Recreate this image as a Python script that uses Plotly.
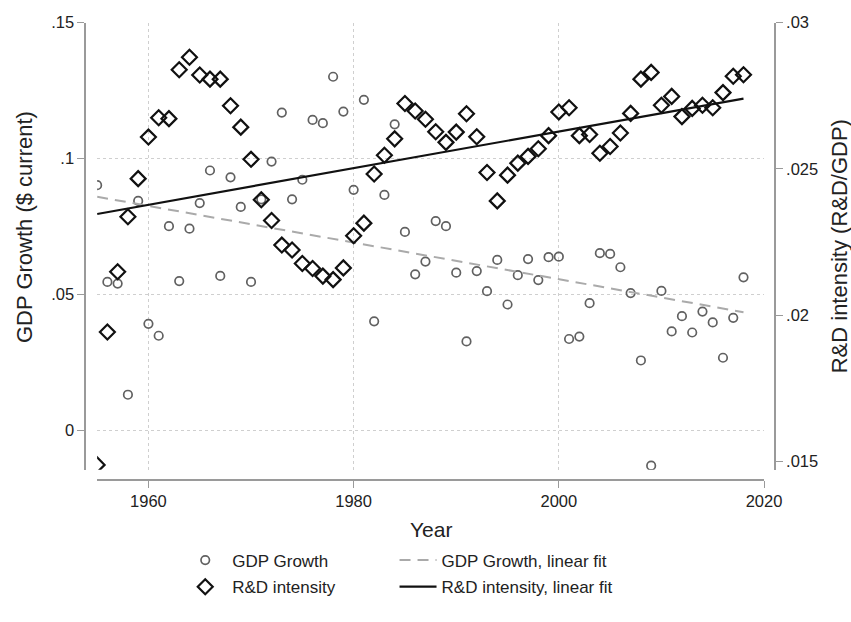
import numpy as np
import plotly.graph_objects as go

# Annual observations
years = list(range(1955, 2019))

gdp_growth = [
    0.0902, 0.0546, 0.0540, 0.0131, 0.0844, 0.0392, 0.0348, 0.0751, 0.0549, 0.0742,
    0.0836, 0.0956, 0.0568, 0.0931, 0.0822, 0.0546, 0.0850, 0.0989, 0.1169, 0.0850,
    0.0922, 0.1142, 0.1130, 0.1301, 0.1173, 0.0885, 0.1216, 0.0401, 0.0866, 0.1126,
    0.0730, 0.0574, 0.0621, 0.0770, 0.0751, 0.0580, 0.0327, 0.0586, 0.0512, 0.0627,
    0.0463, 0.0571, 0.0630, 0.0553, 0.0637, 0.0639, 0.0336, 0.0345, 0.0468, 0.0652,
    0.0649, 0.0600, 0.0505, 0.0257, -0.0130, 0.0513, 0.0364, 0.0420, 0.0360, 0.0437,
    0.0397, 0.0267, 0.0414, 0.0563,
]

rd_intensity = [
    0.01489, 0.01943, 0.02149, 0.02337, 0.02467, 0.02609, 0.02675, 0.02672, 0.02839, 0.02882,
    0.02821, 0.02807, 0.02807, 0.02716, 0.02643, 0.02533, 0.02395, 0.02324, 0.02240, 0.02223,
    0.02177, 0.02160, 0.02134, 0.02122, 0.02162, 0.02272, 0.02315, 0.02483, 0.02547, 0.02603,
    0.02724, 0.02698, 0.02670, 0.02627, 0.02591, 0.02626, 0.02689, 0.02610, 0.02488, 0.02391,
    0.02479, 0.02520, 0.02543, 0.02569, 0.02614, 0.02695, 0.02709, 0.02614, 0.02618, 0.02554,
    0.02577, 0.02623, 0.02690, 0.02807, 0.02830, 0.02718, 0.02748, 0.02679, 0.02707, 0.02718,
    0.02709, 0.02761, 0.02817, 0.02822,
]

x_ticks = [1960, 1980, 2000, 2020]
left_ticks = [0, 0.05, 0.10, 0.15]
left_tick_text = ["0", ".05", ".1", ".15"]
right_ticks = [0.015, 0.020, 0.025, 0.030]
right_tick_text = [".015", ".02", ".025", ".03"]

# OLS fits of each series on year
gdp_fit = np.polyval(np.polyfit(years, gdp_growth, 1), years)
rd_fit = np.polyval(np.polyfit(years, rd_intensity, 1), years)

# Layout positions are written in on-screen pixels and converted to paper
# fractions; the page is shown slightly zoomed out with a small top offset.
SX, SY, OY = 0.978, 0.973, 7.5
W, H = 870, 632
FONT = "Liberation Sans, Arial, sans-serif"
AXIS_GREY = "#9a9a9a"
GRID = "#cfcfcf"


def fx(p):
    return (p / SX) / W


def fy(p):
    return 1 - ((p - OY) / SY) / H


fig = go.Figure()

fig.add_trace(go.Scatter(
    x=years, y=gdp_growth, mode="markers", name="GDP Growth",
    marker=dict(symbol="circle-open", size=8.5, color="#616161", line=dict(width=1.7)),
    yaxis="y", legend="legend", legendgroup="gdp",
))
fig.add_trace(go.Scatter(
    x=years, y=gdp_fit, mode="lines", name="GDP Growth, linear fit",
    line=dict(color="#aaaaaa", width=2, dash="11px,7px"),
    yaxis="y", legend="legend2", legendgroup="gdpfit",
))
fig.add_trace(go.Scatter(
    x=years, y=rd_intensity, mode="markers", name="R&D intensity",
    marker=dict(symbol="diamond-open", size=11.5, color="#111111", line=dict(width=2.2)),
    yaxis="y2", legend="legend", legendgroup="rd",
))
fig.add_trace(go.Scatter(
    x=years, y=rd_fit, mode="lines", name="R&D intensity, linear fit",
    line=dict(color="#111111", width=2.2),
    yaxis="y2", legend="legend2", legendgroup="rdfit",
))

y_dom = [fy(463), fy(21)]
TICK = 16.5
TITLE = 22
LEG = 17

fig.update_layout(
    width=W, height=H,
    margin=dict(l=0, r=0, t=0, b=0),
    paper_bgcolor="white", plot_bgcolor="white",
    font=dict(family=FONT, size=TICK, color="#222222"),
    xaxis=dict(
        domain=[fx(97), fx(763)], range=[1955, 2020],
        anchor="free", position=fy(473),
        tickvals=x_ticks, ticks="outside", ticklen=7, tickcolor=AXIS_GREY,
        showline=True, linecolor=AXIS_GREY, linewidth=1.5,
        showgrid=True, gridcolor=GRID, griddash="dot", gridwidth=1,
        zeroline=False, tickfont=dict(size=TICK),
    ),
    yaxis=dict(
        domain=y_dom, range=[-0.0145, 0.15],
        anchor="free", position=fx(85), side="left",
        tickvals=left_ticks, ticktext=left_tick_text,
        ticks="outside", ticklen=7, tickcolor=AXIS_GREY,
        showline=True, linecolor=AXIS_GREY, linewidth=1.5,
        showgrid=True, gridcolor=GRID, griddash="dot", gridwidth=1,
        zeroline=False, tickfont=dict(size=TICK),
    ),
    yaxis2=dict(
        domain=y_dom, range=[0.014724, 0.030],
        overlaying="y", anchor="free", position=fx(774), side="right",
        tickvals=right_ticks, ticktext=right_tick_text,
        ticks="outside", ticklen=7, tickcolor=AXIS_GREY,
        showline=True, linecolor=AXIS_GREY, linewidth=1.5,
        showgrid=False, zeroline=False, tickfont=dict(size=TICK),
    ),
    legend=dict(
        x=fx(178), y=fy(535), xanchor="left", yanchor="top",
        font=dict(size=LEG), bgcolor="rgba(0,0,0,0)", tracegroupgap=1.5,
        itemwidth=44,
    ),
    legend2=dict(
        x=fx(394), y=fy(535), xanchor="left", yanchor="top",
        font=dict(size=LEG), bgcolor="rgba(0,0,0,0)", tracegroupgap=1.5,
        itemwidth=37,
    ),
    annotations=[
        dict(text="GDP Growth ($ current)", x=fx(25), y=fy(223), xref="paper", yref="paper",
             showarrow=False, textangle=-90, font=dict(size=TITLE), xanchor="center", yanchor="middle"),
        dict(text="R&D intensity (R&D/GDP)", x=fx(838), y=fy(242), xref="paper", yref="paper",
             showarrow=False, textangle=-90, font=dict(size=TITLE), xanchor="center", yanchor="middle"),
        dict(text="Year", x=fx(430), y=fy(522), xref="paper", yref="paper",
             showarrow=False, font=dict(size=21), xanchor="center", yanchor="middle"),
    ],
)

fig.write_html("out.html")
